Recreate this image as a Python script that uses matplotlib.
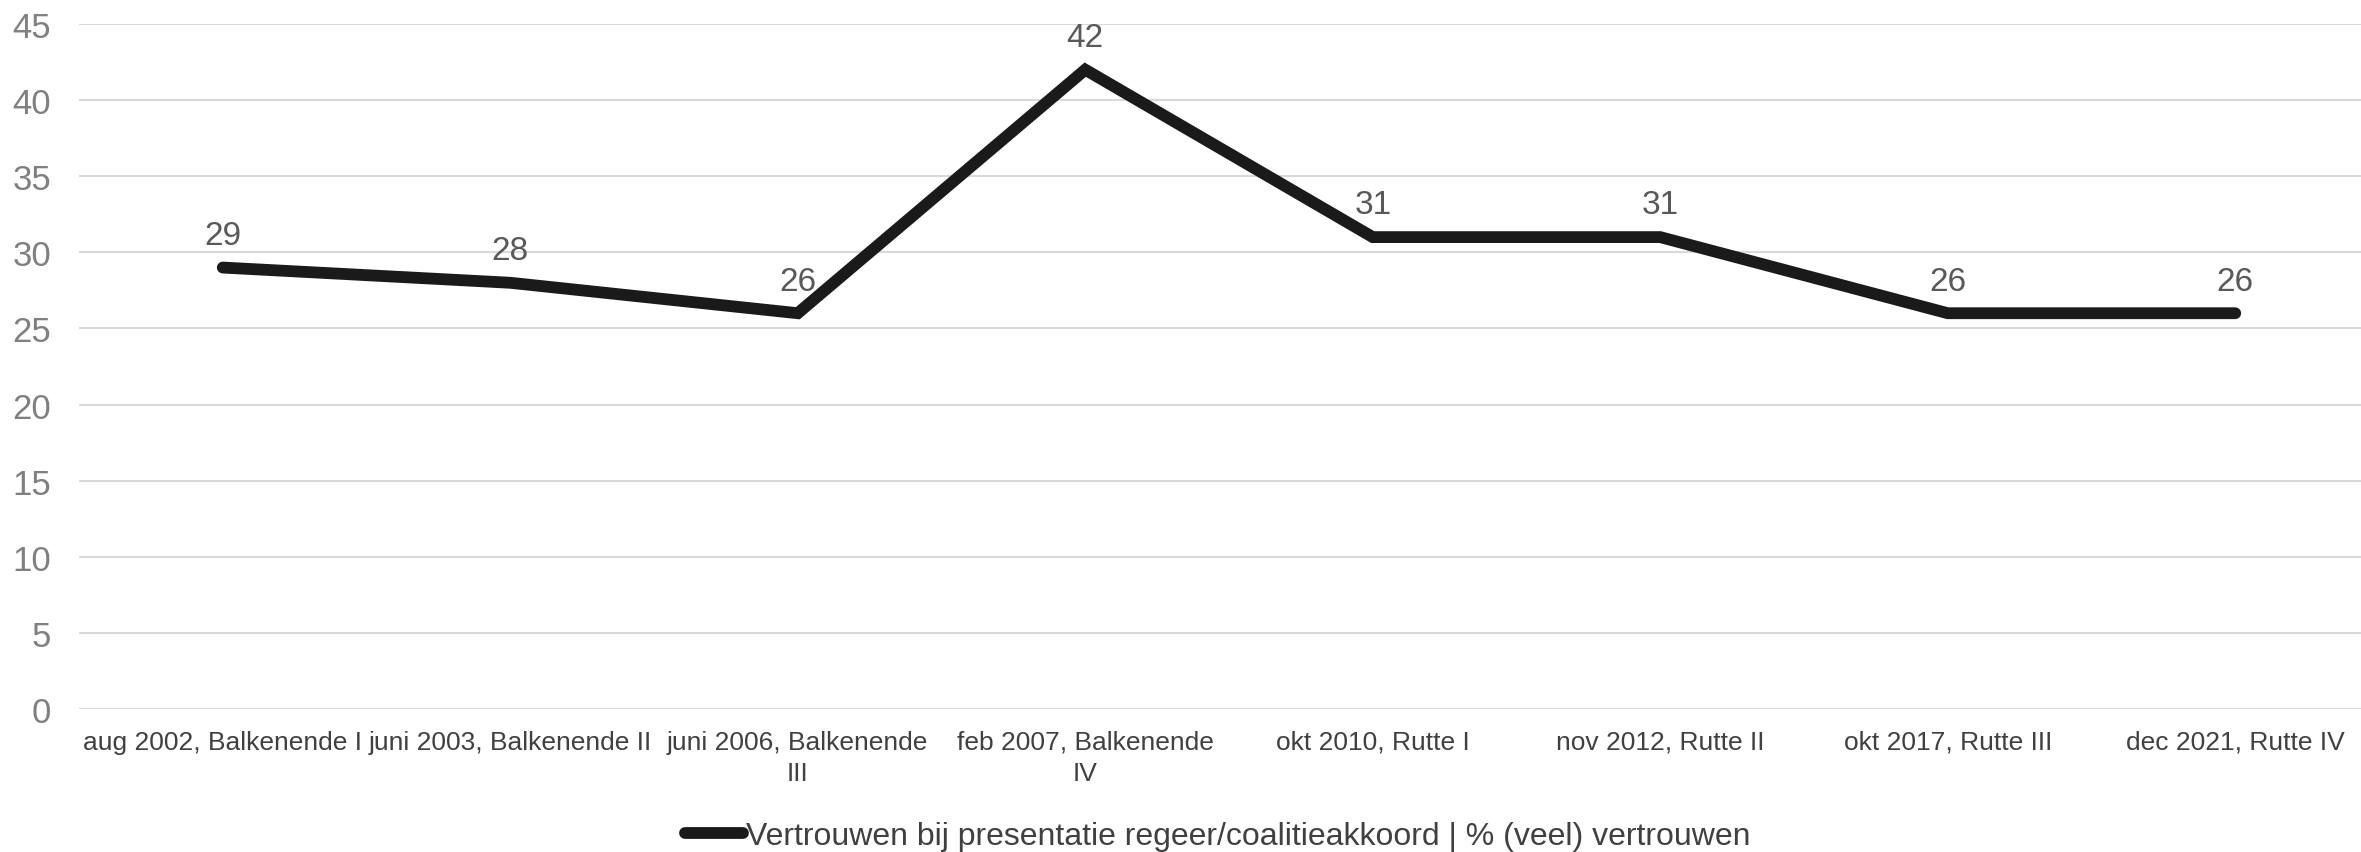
import matplotlib
matplotlib.use("Agg")
import matplotlib.pyplot as plt

categories = [
    "aug 2002, Balkenende I",
    "juni 2003, Balkenende II",
    "juni 2006, Balkenende\nIII",
    "feb 2007, Balkenende\nIV",
    "okt 2010, Rutte I",
    "nov 2012, Rutte II",
    "okt 2017, Rutte III",
    "dec 2021, Rutte IV",
]
vertrouwen = [29, 28, 26, 42, 31, 31, 26, 26]
y_ticks = [0, 5, 10, 15, 20, 25, 30, 35, 40, 45]
series_label = "Vertrouwen bij presentatie regeer/coalitieakkoord | % (veel) vertrouwen"

plt.rcParams["font.family"] = ["Liberation Sans", "DejaVu Sans"]

W, H = 2361, 853
fig = plt.figure(figsize=(W / 100, H / 100), dpi=100)
ax = fig.add_axes([79 / W, 1 - 710 / H, 2300 / W, 685 / H])

x = list(range(len(categories)))
line, = ax.plot(x, vertrouwen, color="#1a1a1a", linewidth=8.5,
                solid_capstyle="round", solid_joinstyle="miter",
                label=series_label)

# value labels above each point
for xi, v in zip(x, vertrouwen):
    ax.annotate(str(v), (xi, v), xytext=(0, 12), textcoords="offset points",
                ha="center", va="bottom", fontsize=24, color="#595959")

ax.set_xlim(-0.5, len(categories) - 0.5)
ax.set_ylim(0, 45)
ax.set_yticks(y_ticks)
ax.set_xticks(x)
ax.set_xticklabels(categories, fontsize=19, color="#404040", linespacing=1.4)
ax.tick_params(axis="y", labelsize=25, labelcolor="#808080", length=0, pad=20)
ax.tick_params(axis="x", length=0, pad=15)

ax.grid(axis="y", color="#d9d9d9", linewidth=1.5)
ax.set_axisbelow(True)
for s in ax.spines.values():
    s.set_visible(False)

fig.legend(handles=[line], loc="center", bbox_to_anchor=(1218 / W, 1 - 837 / H),
           frameon=False, fontsize=23, handlelength=1.8, handletextpad=0.1,
           labelcolor="#404040")

fig.savefig("out.png", dpi=100)
